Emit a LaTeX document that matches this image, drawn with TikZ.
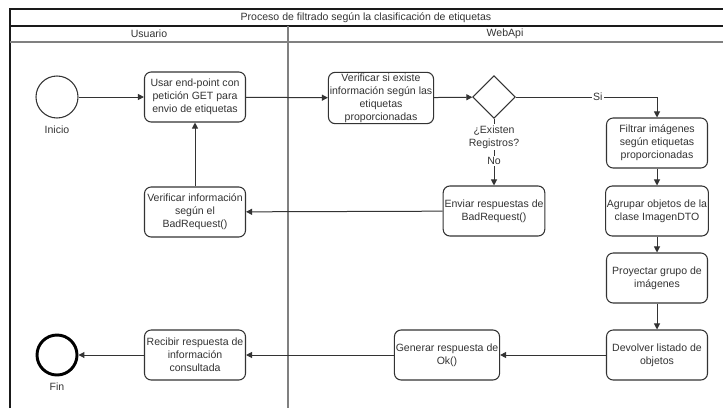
\documentclass[tikz,border=0pt]{standalone}
\usepackage{fontspec}
\setmainfont{Liberation Sans}
\usetikzlibrary{arrows.meta,shapes.geometric}
\definecolor{ink}{HTML}{333333}
\definecolor{pool}{HTML}{1A1A1A}
\definecolor{lane}{HTML}{808080}

\begin{document}
\begin{tikzpicture}[x=0.75pt, y=-0.75pt, font=\fontsize{7.9}{9.7}\selectfont, every node/.style={align=center, text=ink},
    act/.style={draw=ink, line width=0.8pt, rounded corners=5pt, fill=white, minimum width=75.75pt, minimum height=37.5pt, inner sep=1pt},
    flow/.style={draw=ink, line width=0.75pt, -{Triangle[length=4.5pt,width=4.5pt]}}]
    \useasboundingbox (0,0) rectangle (723,408);
    % pool and lanes
    \draw[pool, line width=1pt] (10,408) -- (10,9) -- (723,9);
    \draw[pool, line width=0.8pt] (10,26) -- (723,26);
    \draw[lane, line width=1pt] (10,42) -- (723,42);
    \draw[lane, line width=1pt] (288,26) -- (288,408);
    \node (titulo) at (366,18) {Proceso de filtrado según la clasificación de etiquetas};
    \node (usuario) at (149,34) {Usuario};
    \node (webapi) at (505,34) {WebApi};

    % Usuario
    \node[circle, draw=ink, line width=0.8pt, minimum size=31.5pt, inner sep=0pt] (inicio) at (57,97) {};
    \node (inicioTxt) at (57,130) {Inicio};
    \node[act] (usar) at (195,97) {Usar end-point con\\petición GET para\\envio de etiquetas};
    \node[act] (verifBad) at (195,212) {Verificar información\\según el\\BadRequest()};
    \node[act] (recibir) at (195,355) {Recibir respuesta de\\información\\consultada};
    \node[circle, draw=black, line width=2.2pt, minimum size=30pt, inner sep=0pt] (fin) at (57,355) {};
    \node (finTxt) at (57,387) {Fin};

    % WebApi
    \node[act] (verifExiste) at (381,98) {Verificar si existe\\información según las\\etiquetas\\proporcionadas};
    \node[diamond, draw=ink, line width=0.8pt, minimum width=32pt, minimum height=32pt, inner sep=0pt] (decision) at (494,97) {};
    \node[act] (enviar) at (494,211) {Enviar respuestas de\\BadRequest()};
    \node[act] (filtrar) at (657,143) {Filtrar imágenes\\según etiquetas\\proporcionadas};
    \node[act] (agrupar) at (657,211) {Agrupar objetos de la\\clase ImagenDTO};
    \node[act] (proyectar) at (657,278) {Proyectar grupo de\\imágenes};
    \node[act] (devolver) at (657,355) {Devolver listado de\\objetos};
    \node[act] (generar) at (447,355) {Generar respuesta de\\Ok()};

    \draw[flow] (inicio) -- (usar);
    \draw[flow] (usar) -- (verifExiste);
    \draw[flow] (verifExiste) -- (decision);
    \draw[flow] (decision.east) -| node[pos=0.29, fill=white, inner sep=1pt] (siTxt) {Si} (filtrar.north);
    \draw[flow] (decision.south) -- (enviar.north);
    \node[fill=white, inner sep=1pt] (existenTxt) at (494,137) {¿Existen\\Registros?};
    \node[fill=white, inner sep=1pt] (noTxt) at (494,161) {No};
    \draw[flow] (enviar) -- (verifBad);
    \draw[flow] (verifBad) -- (usar);
    \draw[flow] (filtrar) -- (agrupar);
    \draw[flow] (agrupar) -- (proyectar);
    \draw[flow] (proyectar) -- (devolver);
    \draw[flow] (devolver) -- (generar);
    \draw[flow] (generar) -- (recibir);
    \draw[flow] (recibir) -- (fin);
\end{tikzpicture}
\end{document}
